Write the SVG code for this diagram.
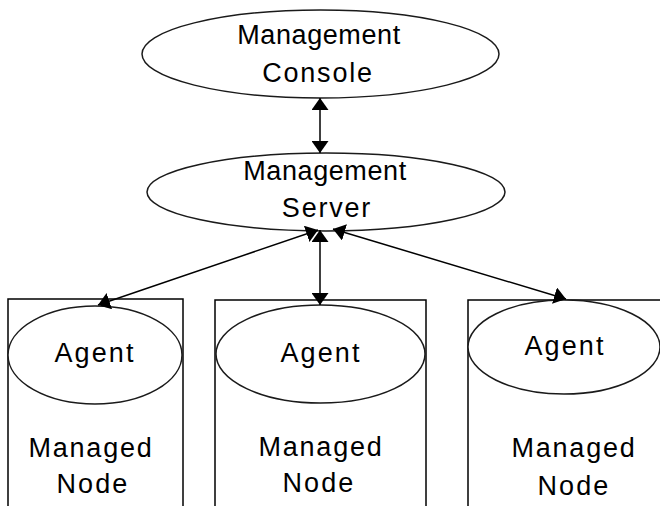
<svg xmlns="http://www.w3.org/2000/svg" width="660" height="506" viewBox="0 0 660 506">
  <style>
    .box { fill: #ffffff; stroke: #000000; stroke-width: 1.5; }
    .oval { fill: #ffffff; stroke: #1a1a1a; stroke-width: 1.5; }
    .label { font-family: "Liberation Sans", Arial, sans-serif; font-size: 27px; fill: #000000; text-anchor: middle; letter-spacing: 1.8px; }
    .label.tight { letter-spacing: 0.6px; }
    .label.wide { letter-spacing: 2.1px; }
    .link { fill: none; stroke: #000000; stroke-width: 1.5; marker-start: url(#head); marker-end: url(#head); }
  </style>
  <defs>
    <marker id="head" viewBox="0 0 12 17" refX="12" refY="8.5" markerWidth="12" markerHeight="17" markerUnits="userSpaceOnUse" orient="auto-start-reverse">
      <path d="M0,0 L12,8.5 L0,17 z" fill="#000000"/>
    </marker>
  </defs>
  <rect width="660" height="506" fill="#ffffff"/>

  <g id="console">
    <ellipse class="oval" cx="320.5" cy="54" rx="178.5" ry="44"/>
    <text class="label tight" x="319" y="44">Management</text>
    <text class="label" x="318" y="82">Console</text>
  </g>

  <g id="server">
    <ellipse class="oval" cx="326" cy="192" rx="179" ry="39"/>
    <text class="label tight" x="325" y="180">Management</text>
    <text class="label" x="327" y="217">Server</text>
  </g>

  <g id="node-left">
    <rect class="box" x="8" y="299" width="175" height="220"/>
    <g id="agent-left">
      <ellipse class="oval" cx="95" cy="355" rx="87" ry="49"/>
      <text class="label wide" x="95" y="362">Agent</text>
    </g>
    <text class="label" x="91" y="457">Managed</text>
    <text class="label wide" x="93" y="493">Node</text>
  </g>

  <g id="node-middle">
    <rect class="box" x="215" y="300" width="211" height="220"/>
    <g id="agent-middle">
      <ellipse class="oval" cx="320.5" cy="354" rx="104.5" ry="49"/>
      <text class="label wide" x="321" y="362">Agent</text>
    </g>
    <text class="label" x="321" y="456">Managed</text>
    <text class="label wide" x="319" y="492">Node</text>
  </g>

  <g id="node-right">
    <rect class="box" x="468" y="300" width="200" height="220"/>
    <g id="agent-right">
      <ellipse class="oval" cx="564" cy="347" rx="96" ry="47"/>
      <text class="label wide" x="565" y="355">Agent</text>
    </g>
    <text class="label" x="574" y="457">Managed</text>
    <text class="label wide" x="574" y="495">Node</text>
  </g>

  <g id="connectors">
    <line class="link" x1="320" y1="98" x2="320" y2="153"/>
    <line class="link" x1="320" y1="230" x2="320" y2="305"/>
    <line class="link" x1="318" y1="230" x2="98" y2="305"/>
    <line class="link" x1="333" y1="229" x2="566" y2="299"/>
  </g>
</svg>
